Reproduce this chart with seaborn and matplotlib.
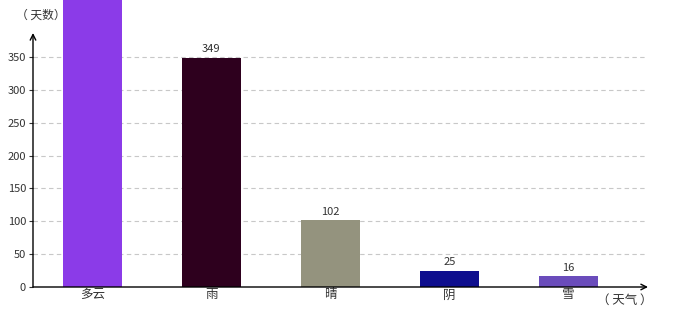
import matplotlib
matplotlib.use("Agg")
import matplotlib.pyplot as plt
import seaborn as sns
import pandas as pd

categories = ["多云", "雨", "晴", "阴", "雪"]
values = [460, 349, 102, 25, 16]
colors = ["#8B3BE8", "#2E001E", "#94937E", "#0E0E8E", "#6A4CBB"]
yticks = [0, 50, 100, 150, 200, 250, 300, 350]

sns.set_style("white")
plt.rcParams["font.family"] = ["Noto Sans CJK SC", "DejaVu Sans"]

df = pd.DataFrame({"天气": categories, "天数": values})

fig = plt.figure(figsize=(6.8, 3.2), dpi=100)
ax = fig.add_axes([33/680, 1 - 287/320, (648-33)/680, (287-33)/320])

sns.barplot(data=df, x="天气", y="天数", hue="天气", palette=colors,
            width=0.5, legend=False, ax=ax, saturation=1, linewidth=0, zorder=2)
for p in ax.patches:
    p.set_clip_on(False)

ax.set_xlim(-0.5, 4.67)
ax.set_ylim(0, 386.5)
ax.set_yticks(yticks)
ax.set_yticklabels([str(t) for t in yticks], fontsize=8, color="#333333")
ax.tick_params(axis="x", labelsize=9, colors="#333333", length=0, pad=1)
ax.tick_params(axis="y", length=3, width=0.8, color="#333333", pad=2, left=True)
ax.set_xlabel("")
ax.set_ylabel("")

for y in yticks[1:]:
    ax.axhline(y, xmin=0, xmax=(645-33)/(648-33), color="#c8c8c8",
               linestyle=(0, (4, 3)), linewidth=0.8, zorder=0)

for s in ["top", "right", "left", "bottom"]:
    ax.spines[s].set_visible(False)

ax.annotate("", xy=(0, 1.0), xytext=(0, 0), xycoords="axes fraction",
            arrowprops=dict(arrowstyle="->", color="black", lw=1, shrinkA=0, shrinkB=0))
ax.annotate("", xy=(1.0, 0), xytext=(0, 0), xycoords="axes fraction",
            arrowprops=dict(arrowstyle="->", color="black", lw=1, shrinkA=0, shrinkB=0))

for i, v in enumerate(values):
    if v < 386:
        ax.text(i, v + 5, str(v), ha="center", va="bottom", fontsize=8, color="#333333")

fig.text(16/680, 1 - 15/320, "（ 天数）", ha="left", va="center", fontsize=8.5, color="#333333")
fig.text(597/680, 1 - 300/320, "（ 天气 ）", ha="left", va="center", fontsize=9, color="#333333")

fig.savefig("out.png", dpi=100)
